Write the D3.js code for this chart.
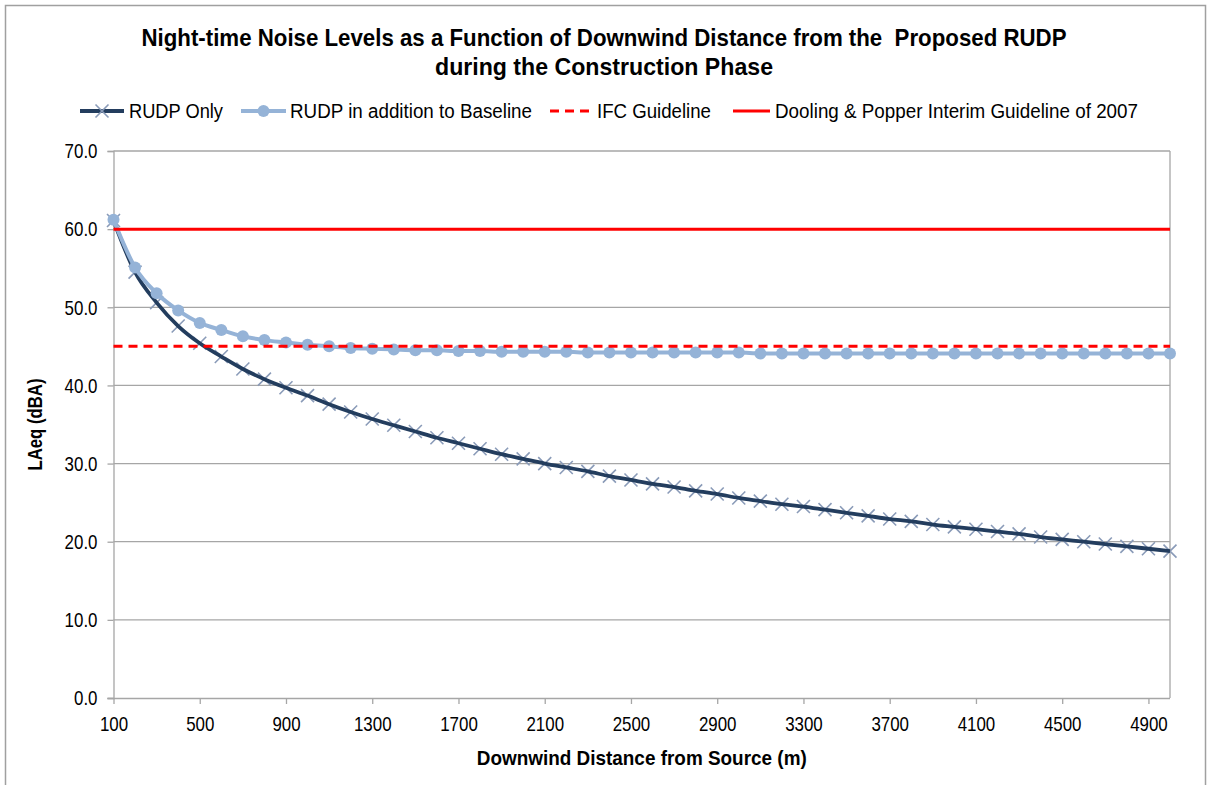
<!DOCTYPE html>
<html>
<head>
<meta charset="utf-8">
<script src="https://cdn.jsdelivr.net/npm/d3@7"></script>
<style>
  html, body { margin: 0; padding: 0; background: #fff; }
  svg { display: block; font-family: "Liberation Sans Narrow", "Arial Narrow", "Liberation Sans", Arial, sans-serif; }
</style>
</head>
<body>
<svg id="chart" width="1208" height="785"></svg>
<script>
// Downwind distance from the source (m)
const distances = [100, 200, 300, 400, 500, 600, 700, 800, 900, 1000,
  1100, 1200, 1300, 1400, 1500, 1600, 1700, 1800, 1900, 2000,
  2100, 2200, 2300, 2400, 2500, 2600, 2700, 2800, 2900, 3000,
  3100, 3200, 3300, 3400, 3500, 3600, 3700, 3800, 3900, 4000,
  4100, 4200, 4300, 4400, 4500, 4600, 4700, 4800, 4900, 5000];

// LAeq (dBA), RUDP construction noise alone
const rudpOnly = [61.1, 54.5, 50.6, 47.6, 45.4, 43.7, 42.1, 40.8, 39.7, 38.7,
  37.6, 36.6, 35.7, 34.9, 34.1, 33.3, 32.6, 31.9, 31.2, 30.6,
  30.0, 29.5, 29.0, 28.4, 27.9, 27.4, 27.0, 26.5, 26.1, 25.6,
  25.2, 24.8, 24.5, 24.1, 23.7, 23.3, 22.9, 22.6, 22.2, 21.9,
  21.6, 21.3, 21.0, 20.6, 20.3, 20.0, 19.7, 19.4, 19.1, 18.8];

// LAeq (dBA), RUDP plus existing baseline noise
const rudpPlusBaseline = [61.2, 55.1, 51.8, 49.6, 48.0, 47.1, 46.3, 45.8, 45.5, 45.2,
  45.0, 44.8, 44.7, 44.6, 44.5, 44.5, 44.4, 44.4, 44.3, 44.3,
  44.3, 44.3, 44.2, 44.2, 44.2, 44.2, 44.2, 44.2, 44.2, 44.2,
  44.1, 44.1, 44.1, 44.1, 44.1, 44.1, 44.1, 44.1, 44.1, 44.1,
  44.1, 44.1, 44.1, 44.1, 44.1, 44.1, 44.1, 44.1, 44.1, 44.1];

// Guideline levels (dBA)
const ifcGuideline = 45;
const doolingGuideline = 60;

const yTicks = [0, 10, 20, 30, 40, 50, 60, 70];
const xTickLabels = [100, 500, 900, 1300, 1700, 2100, 2500, 2900, 3300, 3700, 4100, 4500, 4900];

const titleLines = ["Night-time Noise Levels as a Function of Downwind Distance from the  Proposed RUDP",
                    "during the Construction Phase"];
const legendItems = [
  { key: "rudp", label: "RUDP Only" },
  { key: "base", label: "RUDP in addition to Baseline" },
  { key: "ifc", label: "IFC Guideline" },
  { key: "dool", label: "Dooling & Popper Interim Guideline of 2007" }
];

const colors = {
  rudp: "#233D5E",
  rudpMarker: "#8A9BB8",
  base: "#95B3D7",
  red: "#FF0000",
  grid: "#A6A6A6",
  text: "#000"
};

const svg = d3.select("#chart");
const plot = { left: 113.5, right: 1170, top: 151, bottom: 698 };

const x = d3.scalePoint().domain(distances).range([plot.left, plot.right]).padding(0);
const y = d3.scaleLinear().domain([0, 70]).range([plot.bottom, plot.top]);

// condensed numeric labels: fixed advance per digit / point
const numWidth = s => s.split("").reduce((w, c) => w + (c === "." ? 4.7 : 9.4), 0);

// outer chart frame
svg.append("rect")
  .attr("x", 5.5).attr("y", 5.5).attr("width", 1200).attr("height", 790)
  .attr("fill", "#fff").attr("stroke", "#A0A0A0").attr("stroke-width", 1.5);

// title
const titleWidths = [925, 338];
svg.append("g").selectAll("text").data(titleLines).join("text")
  .attr("x", 604).attr("y", (d, i) => 46 + i * 29)
  .attr("text-anchor", "middle")
  .attr("font-size", 24).attr("font-weight", "bold")
  .attr("textLength", (d, i) => titleWidths[i]).attr("lengthAdjust", "spacingAndGlyphs")
  .style("white-space", "pre")
  .attr("fill", colors.text)
  .text(d => d);

// gridlines
svg.append("g").selectAll("line").data(yTicks.filter(d => d > 0)).join("line")
  .attr("x1", plot.left).attr("x2", plot.right)
  .attr("y1", d => y(d)).attr("y2", d => y(d))
  .attr("stroke", colors.grid).attr("stroke-width", 1.3);

// right border of the plot area
svg.append("line")
  .attr("x1", plot.right).attr("x2", plot.right)
  .attr("y1", plot.top).attr("y2", plot.bottom)
  .attr("stroke", colors.grid).attr("stroke-width", 1.3);

// y axis
const yFmt = d3.format(".1f");
const yAxis = d3.axisLeft(y).tickValues(yTicks).tickSize(6).tickPadding(10).tickFormat(yFmt);
const gy = svg.append("g").attr("transform", `translate(${plot.left},0)`).call(yAxis);
gy.select(".domain").attr("stroke", colors.grid).attr("stroke-width", 1.3);
gy.selectAll(".tick line").attr("stroke", colors.grid).attr("stroke-width", 1.3);
gy.selectAll(".tick text").attr("font-size", 21).attr("fill", colors.text)
  .attr("font-family", null)
  .attr("textLength", d => numWidth(yFmt(d))).attr("lengthAdjust", "spacingAndGlyphs");

// x axis (ticks every fourth distance)
const xAxis = d3.axisBottom(x).tickValues(xTickLabels).tickSize(6).tickPadding(12).tickSizeOuter(0);
const gx = svg.append("g").attr("transform", `translate(0,${plot.bottom})`).call(xAxis);
gx.select(".domain").attr("stroke", colors.grid).attr("stroke-width", 1.3)
  .attr("d", `M${plot.left - 6},0.5H${plot.right}`);
gx.selectAll(".tick line").attr("stroke", colors.grid).attr("stroke-width", 1.3);
gx.selectAll(".tick text").attr("font-size", 21).attr("fill", colors.text)
  .attr("font-family", null)
  .attr("textLength", d => numWidth(String(d))).attr("lengthAdjust", "spacingAndGlyphs");

// axis titles
svg.append("text")
  .attr("x", (plot.left + plot.right) / 2).attr("y", 765)
  .attr("text-anchor", "middle").attr("font-size", 21).attr("font-weight", "bold")
  .attr("textLength", 330).attr("lengthAdjust", "spacingAndGlyphs")
  .text("Downwind Distance from Source (m)");
svg.append("text")
  .attr("transform", `translate(42,${(plot.top + plot.bottom) / 2}) rotate(-90)`)
  .attr("text-anchor", "middle").attr("font-size", 20).attr("font-weight", "bold")
  .attr("textLength", 92).attr("lengthAdjust", "spacingAndGlyphs")
  .text("LAeq (dBA)");

const line = d3.line().x((d, i) => x(distances[i])).y(d => y(d)).curve(d3.curveMonotoneX);
const xMark = s => `M${-s},${-s}L${s},${s}M${-s},${s}L${s},${-s}`;

// RUDP only: markers then line
const g1 = svg.append("g");
g1.selectAll("path.mk").data(rudpOnly).join("path")
  .attr("class", "mk")
  .attr("transform", (d, i) => `translate(${x(distances[i])},${y(d)})`)
  .attr("d", xMark(6.5))
  .attr("stroke", colors.rudpMarker).attr("stroke-width", 1.6).attr("fill", "none");
g1.append("path").datum(rudpOnly)
  .attr("d", line).attr("fill", "none")
  .attr("stroke", colors.rudp).attr("stroke-width", 3.8).attr("stroke-linejoin", "round");

// RUDP in addition to baseline
const g2 = svg.append("g");
g2.append("path").datum(rudpPlusBaseline)
  .attr("d", line).attr("fill", "none")
  .attr("stroke", colors.base).attr("stroke-width", 4).attr("stroke-linejoin", "round");
g2.selectAll("circle").data(rudpPlusBaseline).join("circle")
  .attr("cx", (d, i) => x(distances[i])).attr("cy", d => y(d))
  .attr("r", 6).attr("fill", colors.base);

// guideline lines
svg.append("line")
  .attr("x1", plot.left).attr("x2", plot.right)
  .attr("y1", y(ifcGuideline)).attr("y2", y(ifcGuideline))
  .attr("stroke", colors.red).attr("stroke-width", 3).attr("stroke-dasharray", "9,6");
svg.append("line")
  .attr("x1", plot.left).attr("x2", plot.right)
  .attr("y1", y(doolingGuideline)).attr("y2", y(doolingGuideline))
  .attr("stroke", colors.red).attr("stroke-width", 3);

// legend
const legendLayout = {
  rudp: { x0: 80, x1: 124, tx: 129, w: 94 },
  base: { x0: 241, x1: 286, tx: 290, w: 242 },
  ifc: { x0: 550, x1: 590, tx: 597, w: 114 },
  dool: { x0: 733, x1: 770, tx: 775, w: 363 }
};
const ly = 111;
const lg = svg.append("g");
legendItems.forEach(item => {
  const L = legendLayout[item.key];
  const mid = (L.x0 + L.x1) / 2;
  if (item.key === "rudp") {
    lg.append("line").attr("x1", L.x0).attr("x2", L.x1).attr("y1", ly).attr("y2", ly)
      .attr("stroke", colors.rudp).attr("stroke-width", 3.8);
    lg.append("path").attr("transform", `translate(${mid},${ly})`).attr("d", xMark(6.5))
      .attr("stroke", colors.rudpMarker).attr("stroke-width", 1.6).attr("fill", "none");
  } else if (item.key === "base") {
    lg.append("line").attr("x1", L.x0).attr("x2", L.x1).attr("y1", ly).attr("y2", ly)
      .attr("stroke", colors.base).attr("stroke-width", 4);
    lg.append("circle").attr("cx", mid).attr("cy", ly).attr("r", 6).attr("fill", colors.base);
  } else if (item.key === "ifc") {
    lg.append("line").attr("x1", L.x0).attr("x2", L.x1).attr("y1", ly).attr("y2", ly)
      .attr("stroke", colors.red).attr("stroke-width", 3).attr("stroke-dasharray", "9,6");
  } else {
    lg.append("line").attr("x1", L.x0).attr("x2", L.x1).attr("y1", ly).attr("y2", ly)
      .attr("stroke", colors.red).attr("stroke-width", 3);
  }
  lg.append("text").attr("x", L.tx).attr("y", ly + 7)
    .attr("font-size", 20).attr("fill", colors.text)
    .attr("textLength", L.w).attr("lengthAdjust", "spacingAndGlyphs")
    .text(item.label);
});
</script>
</body>
</html>
